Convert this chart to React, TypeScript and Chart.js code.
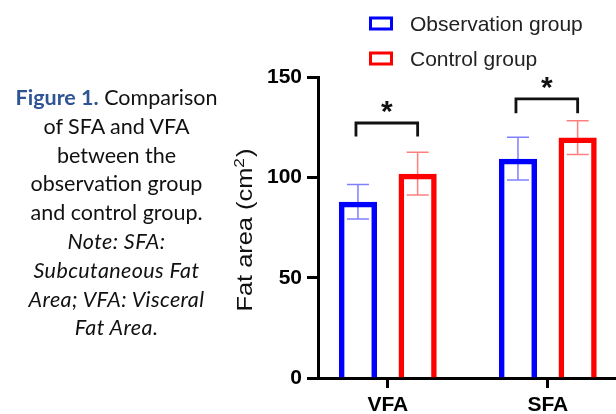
import React, { useEffect, useRef } from 'react';
import { Chart, registerables } from 'chart.js';

Chart.register(...registerables);

// ---- data ----
const categories = ['VFA', 'SFA'];
const seriesNames = ['Observation group', 'Control group'];
const observationMeans = [88, 109.5];
const observationSD = [8.6, 10.7];
const controlMeans = [102, 120];
const controlSD = [10.7, 8.4];
const yTicks = [0, 50, 100, 150];
const bracketTop = [127.3, 139.3];
const bracketBottom = [120.5, 132.2];
const asteriskY = [136.8, 148.8];
const significance = ['*', '*'];

const seriesColors = ['#0000FF', '#FF0000'];
const errorColors = ['rgba(0,0,255,0.5)', 'rgba(255,0,0,0.5)'];
const seriesSD = [observationSD, controlSD];

const FONT = '"Liberation Sans", Arial, sans-serif';

const overlayPlugin = {
  id: 'overlay',
  beforeDatasetsDraw(chart: any) {
    const ctx = chart.ctx;
    const yScale = chart.scales.y;
    chart.data.datasets.forEach((ds: any, i: number) => {
      const meta = chart.getDatasetMeta(i);
      meta.data.forEach((bar: any, j: number) => {
        const mean = ds.data[j].y;
        const sd = seriesSD[i][j];
        const x = bar.x;
        const yHi = yScale.getPixelForValue(mean + sd);
        const yLo = yScale.getPixelForValue(mean - sd);
        ctx.save();
        ctx.strokeStyle = errorColors[i];
        ctx.lineWidth = 1.5;
        ctx.beginPath();
        ctx.moveTo(x, yHi);
        ctx.lineTo(x, yLo);
        ctx.moveTo(x - 11, yHi);
        ctx.lineTo(x + 11, yHi);
        ctx.moveTo(x - 11, yLo);
        ctx.lineTo(x + 11, yLo);
        ctx.stroke();
        ctx.restore();
      });
    });
  },
  afterDraw(chart: any) {
    const ctx = chart.ctx;
    const yScale = chart.scales.y;
    const m0 = chart.getDatasetMeta(0);
    const m1 = chart.getDatasetMeta(1);

    // significance brackets
    categories.forEach((_c, j) => {
      const x1 = m0.data[j].x - 2;
      const x2 = m1.data[j].x;
      const yt = yScale.getPixelForValue(bracketTop[j]);
      const yb = yScale.getPixelForValue(bracketBottom[j]);
      ctx.save();
      ctx.strokeStyle = '#111';
      ctx.lineWidth = 2.8;
      ctx.lineJoin = 'miter';
      ctx.beginPath();
      ctx.moveTo(x1, yb);
      ctx.lineTo(x1, yt);
      ctx.lineTo(x2, yt);
      ctx.lineTo(x2, yb);
      ctx.stroke();
      ctx.fillStyle = '#111';
      ctx.font = `bold 30px ${FONT}`;
      ctx.textAlign = 'center';
      ctx.textBaseline = 'alphabetic';
      const ya = yScale.getPixelForValue(asteriskY[j]);
      ctx.fillText(significance[j], (x1 + x2) / 2, ya + 0.58 * 30);
      ctx.restore();
    });

    // legend
    seriesNames.forEach((name, i) => {
      const cy = 23.5 + i * 35;
      ctx.save();
      ctx.strokeStyle = seriesColors[i];
      ctx.lineWidth = 3;
      ctx.strokeRect(370.5, cy - 5.5, 21, 11);
      ctx.fillStyle = '#222';
      ctx.font = `21px ${FONT}`;
      ctx.textAlign = 'left';
      ctx.textBaseline = 'middle';
      ctx.fillText(name, 410, cy + 1.5);
      ctx.restore();
    });

    // y-axis title "Fat area (cm2)"
    ctx.save();
    ctx.fillStyle = '#111';
    ctx.translate(251.7, 230);
    ctx.rotate(-Math.PI / 2);
    const mainFont = `22px ${FONT}`;
    const supFont = `15px ${FONT}`;
    ctx.font = mainFont;
    const part1 = 'Fat area (cm';
    const part3 = ')';
    const w1 = ctx.measureText(part1).width;
    const w3 = ctx.measureText(part3).width;
    ctx.font = supFont;
    const w2 = ctx.measureText('2').width + 1;
    const total = w1 + w2 + w3;
    const sx = 163 / total;
    ctx.scale(sx, 1);
    let x = -total / 2;
    ctx.textBaseline = 'alphabetic';
    ctx.textAlign = 'left';
    ctx.font = mainFont;
    ctx.fillText(part1, x, 0);
    x += w1;
    ctx.font = supFont;
    ctx.fillText('2', x, -8);
    x += w2;
    ctx.font = mainFont;
    ctx.fillText(part3, x, 0);
    ctx.restore();
  },
};

export default function App() {
  const canvasRef = useRef<HTMLCanvasElement | null>(null);

  useEffect(() => {
    if (!canvasRef.current) return;
    const chart = new Chart(canvasRef.current, {
      type: 'bar',
      data: {
        datasets: [
          {
            label: seriesNames[0],
            data: observationMeans.map((y, i) => ({ x: i, y })),
            backgroundColor: 'rgba(0,0,0,0)',
            borderColor: seriesColors[0],
            borderWidth: 5.5,
            borderSkipped: 'start',
          },
          {
            label: seriesNames[1],
            data: controlMeans.map((y, i) => ({ x: i, y })),
            backgroundColor: 'rgba(0,0,0,0)',
            borderColor: seriesColors[1],
            borderWidth: 5.5,
            borderSkipped: 'start',
          },
        ],
      } as any,
      options: {
        animation: false,
        responsive: false,
        events: [],
        layout: { padding: { top: 77.5, left: 0, right: 0, bottom: 0 } },
        datasets: { bar: { categoryPercentage: 0.746, barPercentage: 0.64 } } as any,
        plugins: {
          legend: { display: false },
          tooltip: { enabled: false },
          title: { display: false },
        },
        scales: {
          x: {
            type: 'linear',
            min: -0.43625,
            max: 1.42625,
            offset: false,
            ticks: {
              stepSize: 1,
              includeBounds: false,
              autoSkip: false,
              maxRotation: 0,
              padding: 5,
              color: '#000',
              font: { family: FONT, size: 21, weight: 'bold' },
              callback: (v: any) => categories[v as number] ?? '',
            },
            grid: {
              offset: false,
              drawOnChartArea: false,
              drawTicks: true,
              tickLength: 10,
              tickWidth: 3,
              tickColor: '#000',
            },
            border: { display: true, width: 3, color: '#000' },
            afterFit: (s: any) => {
              s.height = 36;
            },
          },
          y: {
            type: 'linear',
            min: 0,
            max: 150,
            afterBuildTicks: (s: any) => {
              s.ticks = yTicks.map((v) => ({ value: v }));
            },
            ticks: {
              padding: 5,
              color: '#000',
              font: { family: FONT, size: 21, weight: 'bold' },
            },
            grid: {
              drawOnChartArea: false,
              drawTicks: true,
              tickLength: 11,
              tickWidth: 3,
              tickColor: '#000',
            },
            border: { display: true, width: 3, color: '#000' },
            afterFit: (s: any) => {
              s.width = 318;
            },
          },
        } as any,
      },
      plugins: [overlayPlugin],
    });
    return () => chart.destroy();
  }, []);

  const captionLine: React.CSSProperties = { display: 'block', whiteSpace: 'nowrap' };
  const italicLine: React.CSSProperties = { ...captionLine, fontStyle: 'italic', letterSpacing: '0.4px' };

  return (
    <div
      style={{
        position: 'fixed',
        left: 0,
        top: 0,
        width: 616,
        height: 414,
        background: '#fff',
        overflow: 'hidden',
      }}
    >
      <canvas
        ref={canvasRef}
        width={616}
        height={414}
        style={{ position: 'absolute', left: 0, top: 0, width: 616, height: 414 }}
      />
      <div
        style={{
          position: 'absolute',
          left: 0,
          top: 83,
          width: 233,
          textAlign: 'center',
          fontFamily: 'Lato, "Noto Sans", sans-serif',
          fontSize: 21.5,
          lineHeight: '28.8px',
          color: '#111',
        }}
      >
        <span style={captionLine}>
          <b style={{ color: '#2F5496' }}>Figure 1.</b> Comparison
        </span>
        <span style={captionLine}>of SFA and VFA</span>
        <span style={captionLine}>between the</span>
        <span style={captionLine}>observation group</span>
        <span style={captionLine}>and control group.</span>
        <span style={italicLine}>Note: SFA:</span>
        <span style={italicLine}>Subcutaneous Fat</span>
        <span style={italicLine}>Area; VFA: Visceral</span>
        <span style={italicLine}>Fat Area.</span>
      </div>
    </div>
  );
}
